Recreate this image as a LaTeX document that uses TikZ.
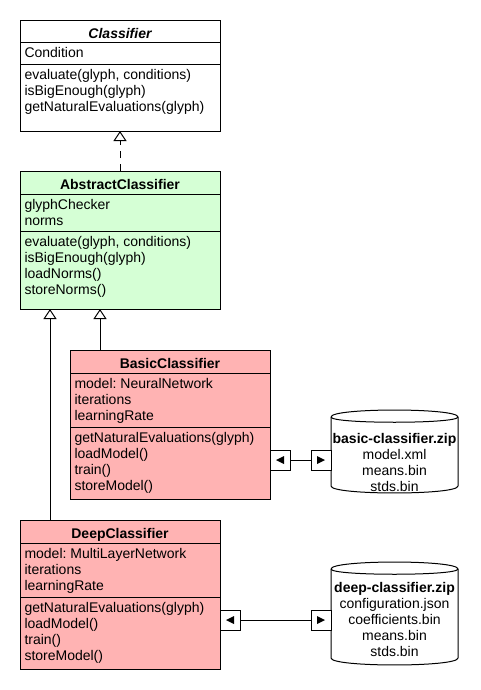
\documentclass[tikz,border=0pt]{standalone}
\usepackage{fontspec}
\setmainfont{Liberation Sans}
\usetikzlibrary{arrows.meta}
\definecolor{absgreen}{HTML}{D5FFD5}
\definecolor{implpink}{HTML}{FFB3B3}
\frenchspacing

% one text line per member, placed on successive baselines 16pt apart
\newcommand\memberlist[4]{%
  \foreach \t [count=\i] in {#4}
    \node[member] (#1\i) at (#2,{#3+16*(\i-1)}) {\t};}

\begin{document}
\begin{tikzpicture}[x=1pt,y=-1pt,line width=1pt,
  classbox/.style={draw,rectangle,anchor=north west,inner sep=0pt,outer sep=0pt,
    minimum width=200pt},
  member/.style={anchor=base west,inner sep=0pt,font=\fontsize{14}{16}\selectfont},
  title/.style={anchor=base,inner sep=0pt,font=\fontsize{14}{16}\selectfont\bfseries},
  centred/.style={anchor=base,inner sep=0pt,font=\fontsize{14}{16}\selectfont},
  port/.style={draw,fill=white,rectangle,inner sep=0pt,outer sep=0pt,
    minimum width=20pt,minimum height=20pt},
  store/.style={rectangle,inner sep=0pt,outer sep=0pt,minimum width=127pt},
  inherit/.style={-{Triangle[open,length=10pt,width=13pt]}},
  realize/.style={inherit,dash pattern=on 7pt off 6pt}]

\useasboundingbox (0,0) rectangle (480,690);
\fill[white] (0,0) rectangle (480,690);

% ---- Classifier ----
\node[classbox,fill=white,minimum height=110pt] (classifier) at (20,21) {};
\draw (20,43) -- (220,43);
\draw (20,65) -- (220,65);
\node[title,font=\fontsize{14}{16}\selectfont\bfseries\itshape] (classifierT) at (120,39) {Classifier};
\memberlist{clsa}{24}{58}{Condition}
\memberlist{clsm}{24}{80}{{evaluate(glyph, conditions)},isBigEnough(glyph),getNaturalEvaluations(glyph)}

% ---- AbstractClassifier ----
\node[classbox,fill=absgreen,minimum height=138pt] (abstract) at (20,171) {};
\draw (20,194) -- (220,194);
\draw (20,231) -- (220,231);
\node[title] (abstractT) at (120,189) {AbstractClassifier};
\memberlist{absa}{24}{209}{glyphChecker,norms}
\memberlist{absm}{24}{246}{{evaluate(glyph, conditions)},isBigEnough(glyph),loadNorms(),storeNorms()}

% ---- BasicClassifier ----
\node[classbox,fill=implpink,minimum height=149pt] (basic) at (70,350) {};
\draw (70,373) -- (270,373);
\draw (70,427) -- (270,427);
\node[title] (basicT) at (170,368) {BasicClassifier};
\memberlist{basa}{74}{388}{model: NeuralNetwork,iterations,learningRate}
\memberlist{basm}{74}{442}{getNaturalEvaluations(glyph),loadModel(),train(),storeModel()}

% ---- DeepClassifier ----
\node[classbox,fill=implpink,minimum height=149pt] (deep) at (20,520) {};
\draw (20,543) -- (220,543);
\draw (20,597) -- (220,597);
\node[title] (deepT) at (120,538) {DeepClassifier};
\memberlist{deea}{24}{558}{model: MultiLayerNetwork,iterations,learningRate}
\memberlist{deem}{24}{612}{getNaturalEvaluations(glyph),loadModel(),train(),storeModel()}

% ---- generalisation and realisation ----
\draw[realize] (abstract.north) -- (classifier.south);
\draw[inherit] ([xshift=30pt]basic.north west) -- ([xshift=30pt]basic.north west |- abstract.south);
\draw[inherit] ([xshift=30pt]deep.north west) -- ([xshift=30pt]deep.north west |- abstract.south);

% ---- archive stores (cylinders) ----
\draw[fill=white] (331,417) .. controls (331,407.7) and (458,407.7) .. (458,417)
  -- (458,486) .. controls (458,495.3) and (331,495.3) .. (331,486) -- cycle;
\draw (331,417) .. controls (331,424) and (458,424) .. (458,417);
\node[store,minimum height=83pt] (basiczip) at (394.5,451.5) {};
\node[title] (basiczipT) at (394.5,443) {basic-classifier.zip};
\foreach \t [count=\i] in {model.xml,means.bin,stds.bin}
  \node[centred] (basiczip\i) at (394.5,{443+16*\i}) {\t};

\draw[fill=white] (331,569) .. controls (331,559.7) and (458,559.7) .. (458,569)
  -- (458,658) .. controls (458,667.3) and (331,667.3) .. (331,658) -- cycle;
\draw (331,569) .. controls (331,576) and (458,576) .. (458,569);
\node[store,minimum height=103pt] (deepzip) at (394.5,613.5) {};
\node[title] (deepzipT) at (394.5,592) {deep-classifier.zip};
\foreach \t [count=\i] in {configuration.json,coefficients.bin,means.bin,stds.bin}
  \node[centred] (deepzip\i) at (394.5,{592+16*\i}) {\t};

% ---- ports and their links ----
\node[port] (bportL) at (280,460) {};
\node[port] (bportR) at (321,460) {};
\node[port] (dportL) at (230,620) {};
\node[port] (dportR) at (321,620) {};
\draw (bportL) -- (bportR);
\draw (dportL) -- (dportR);
\foreach \p in {bportL,dportL}
  \fill (\p.center) ++(4,-4) -- ++(0,8) -- ++(-8,-4) -- cycle;
\foreach \p in {bportR,dportR}
  \fill (\p.center) ++(-4,-4) -- ++(0,8) -- ++(8,-4) -- cycle;
\end{tikzpicture}
\end{document}
